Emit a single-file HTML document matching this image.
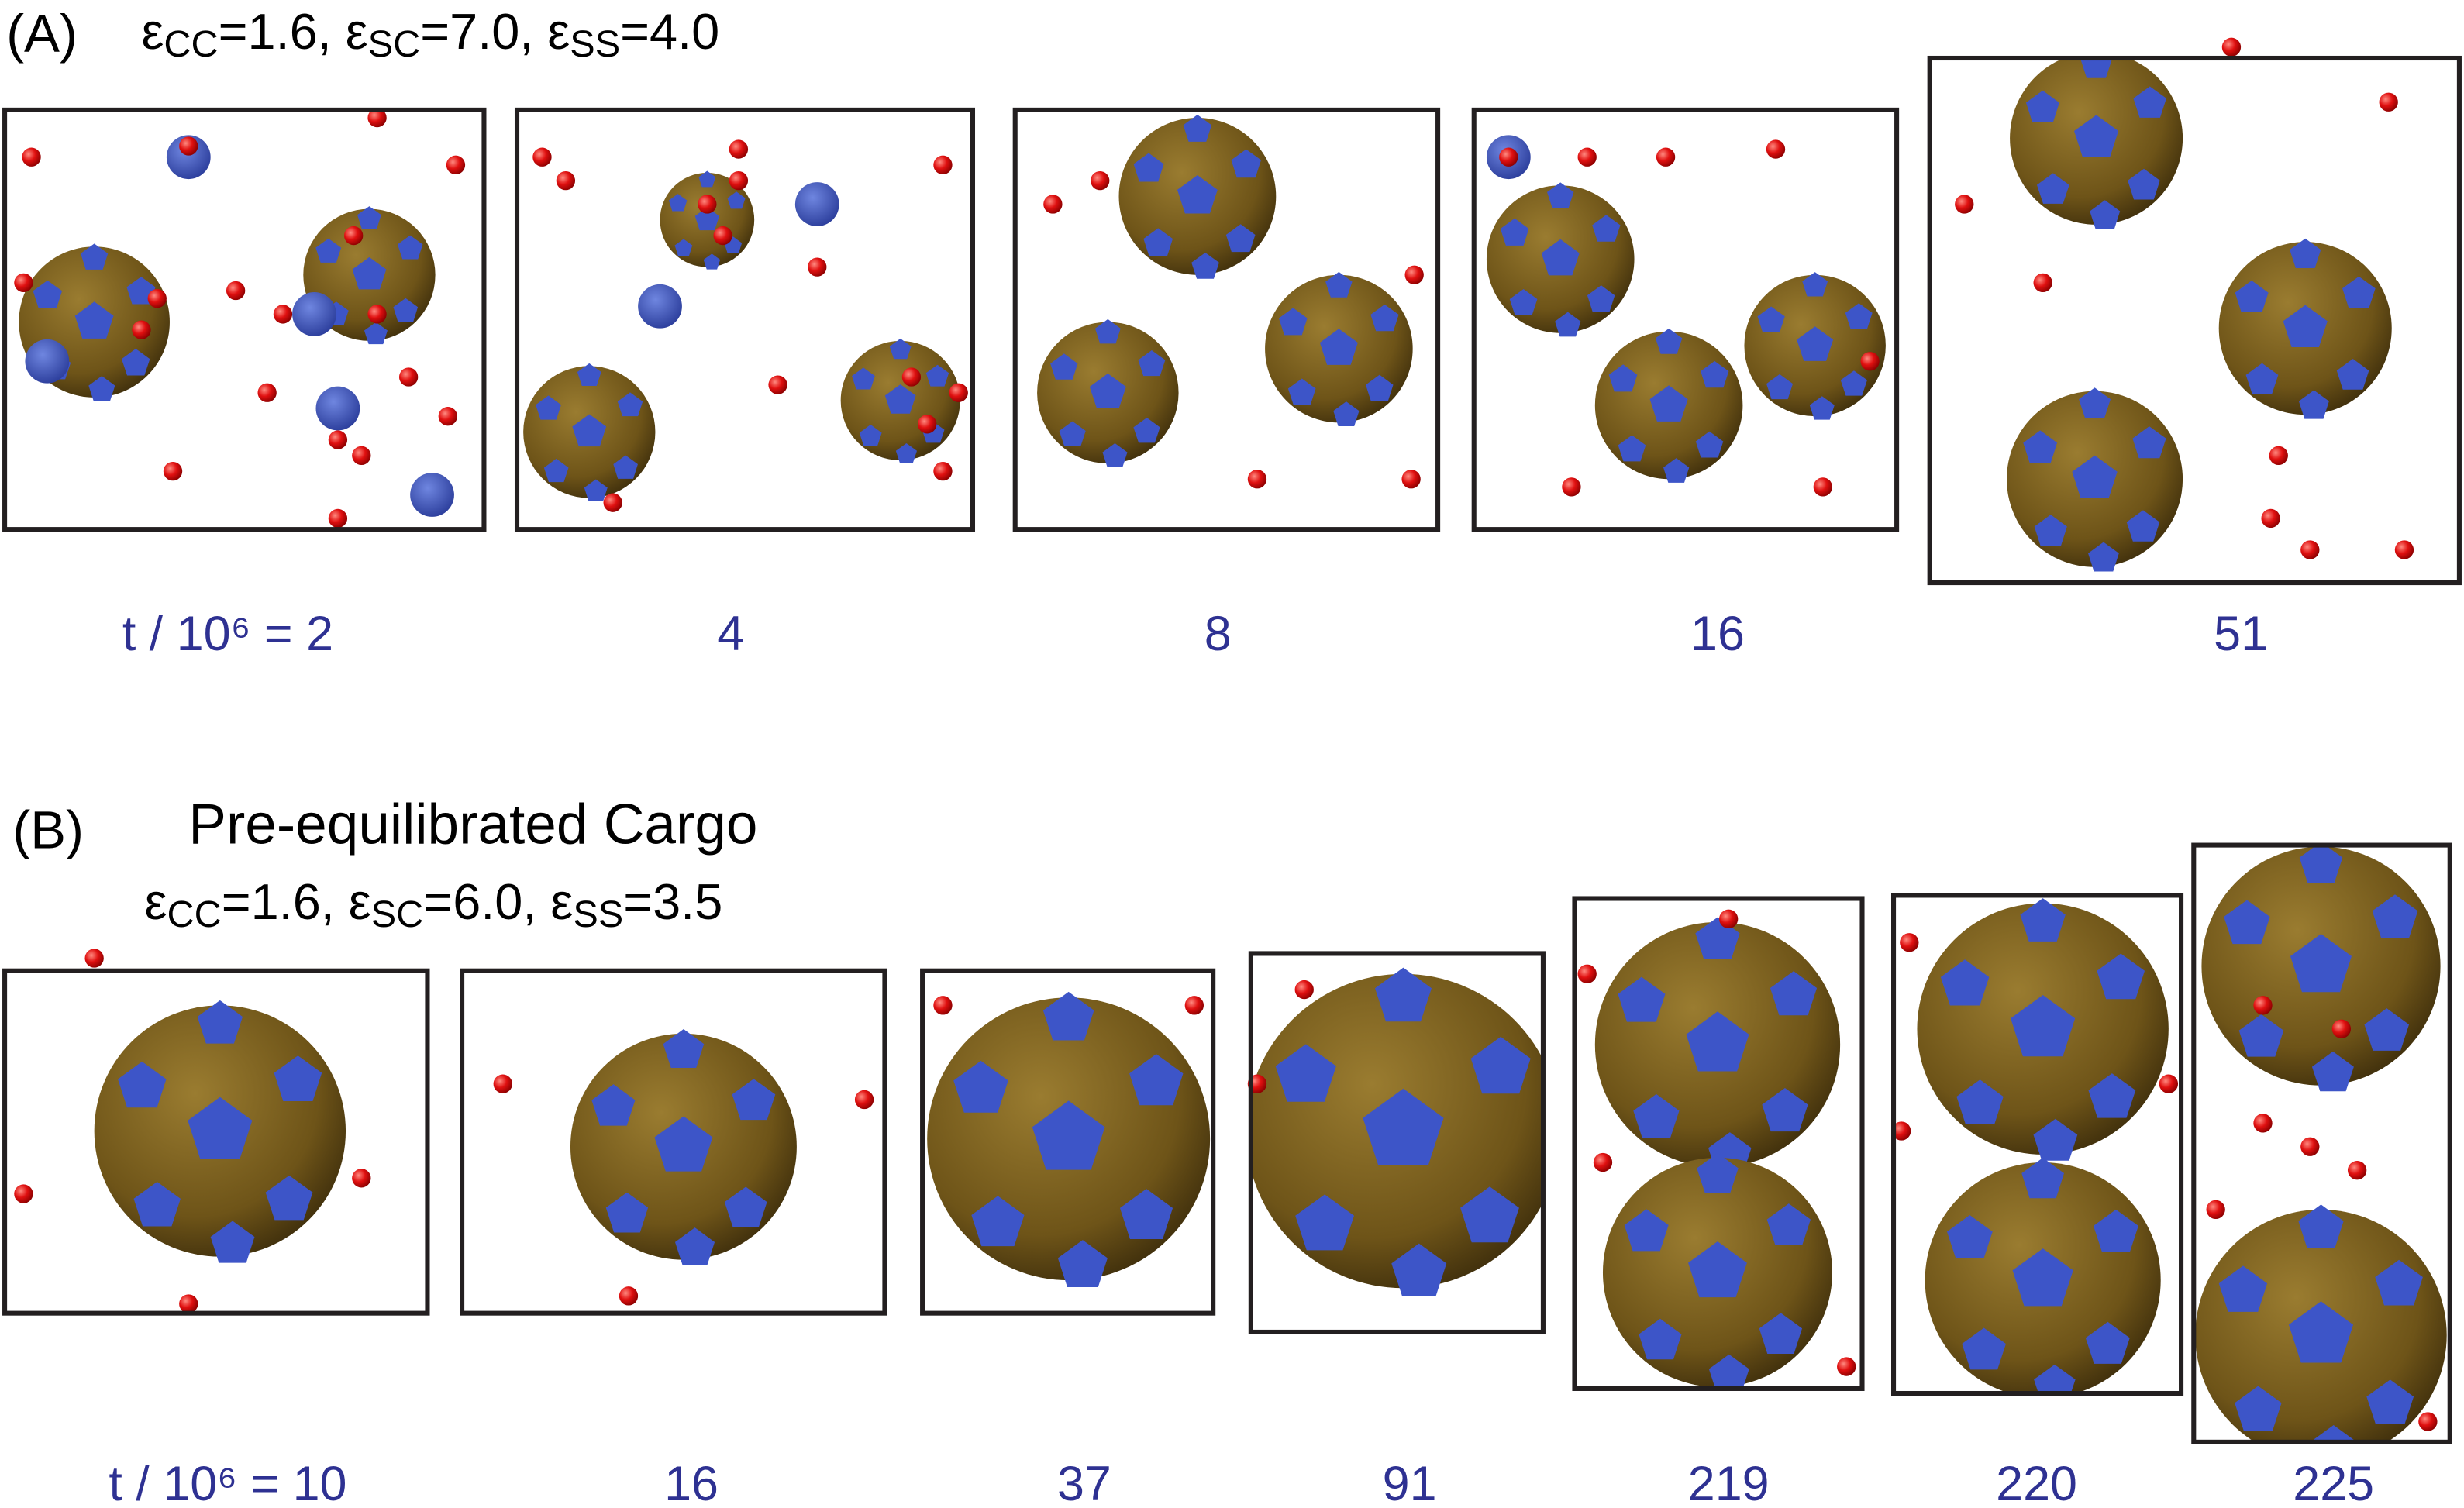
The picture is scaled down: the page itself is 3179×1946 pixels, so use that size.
<!DOCTYPE html>
<html><head><meta charset="utf-8"><style>
html,body{margin:0;padding:0;background:#fff}
svg{display:block}
text{font-family:"Liberation Sans",sans-serif}
</style></head><body>
<svg id="fig" width="3179" height="1946" viewBox="0 0 1568 960" preserveAspectRatio="none" xmlns="http://www.w3.org/2000/svg">
<defs>
<radialGradient id="gb" cx="0.4" cy="0.35" r="0.7"><stop offset="0" stop-color="#9a7c30"/><stop offset="0.7" stop-color="#6e5418"/><stop offset="1" stop-color="#3e2e0c"/></radialGradient>
<radialGradient id="gr" cx="0.35" cy="0.35" r="0.7"><stop offset="0" stop-color="#ff8a80"/><stop offset="0.5" stop-color="#e01010"/><stop offset="1" stop-color="#8a0000"/></radialGradient>
<radialGradient id="gbl" cx="0.4" cy="0.35" r="0.7"><stop offset="0" stop-color="#6f86e0"/><stop offset="1" stop-color="#2a3c9a"/></radialGradient>
</defs>
<g>
<text x="4" y="33" font-size="34">(A)</text>
<text x="90" y="31" font-size="32">ε<tspan font-size="24" dy="5">CC</tspan><tspan dy="-5">=1.6, ε</tspan><tspan font-size="24" dy="5">SC</tspan><tspan dy="-5">=7.0, ε</tspan><tspan font-size="24" dy="5">SS</tspan><tspan dy="-5">=4.0</tspan></text>
</g>
<g>
<text x="8" y="540" font-size="34">(B)</text>
<text x="120" y="537" font-size="36">Pre-equilibrated Cargo</text>
<text x="92" y="585" font-size="32">ε<tspan font-size="24" dy="5">CC</tspan><tspan dy="-5">=1.6, ε</tspan><tspan font-size="24" dy="5">SC</tspan><tspan dy="-5">=6.0, ε</tspan><tspan font-size="24" dy="5">SS</tspan><tspan dy="-5">=3.5</tspan></text>
</g>
<g id="frames"></g>
<g id="labels" fill="#2e3192" font-size="31" text-anchor="middle"></g>
</svg>
<script>
const NS='http://www.w3.org/2000/svg';
const framesA=[[3,70,305,267],[329,70,290,267],[646,70,269,267],[938,70,269,267],[1228,37,337,334]];
const labelsA=['t / 10⁶ = 2','4','8','16','51'];
const labelXA=[145,465,775,1093,1426];
const framesB=[[3,618,269,218],[294,618,269,218],[587,618,185,218],[796,607,186,241],[1002,572,183,312],[1205,570,183,317],[1396,538,163,380]];
const labelsB=['t / 10⁶ = 10','16','37','91','219','220','225'];
const labelXB=[145,440,690,897,1100,1296,1485];
// capsids [cx,cy,r]
const capsids=[[60,205,48],[235,175,42],[375,275,42],[450,140,30],[573,255,38],[762,125,50],[705,250,45],[852,222,47],[993,165,47],[1062,258,47],[1155,220,45],[1334,88,55],[1467,209,55],[1333,305,56],
[140,720,80],[435,730,72],[680,725,90],[893,720,100],[1093,665,78],[1093,810,73],[1300,655,80],[1300,815,75],[1477,615,76],[1477,850,80]];
const reds=[[20,100],[120,93],[240,75],[290,105],[15,180],[150,185],[180,200],[170,250],[110,300],[260,240],[285,265],[215,330],[100,190],[90,210],[225,150],[240,200],[215,280],[230,290],[345,100],[360,115],[470,95],[520,170],[495,245],[390,320],[450,130],[460,150],[470,115],[580,240],[590,270],[600,105],[610,250],[600,300],[700,115],[670,130],[800,305],[898,305],[900,175],[960,100],[1010,100],[1060,100],[1130,95],[1190,230],[1160,310],[1000,310],[1250,130],[1300,180],[1420,30],[1520,65],[1450,290],[1445,330],[1530,350],[1470,350],[60,610],[15,760],[120,830],[230,750],[320,690],[400,825],[550,700],[600,640],[760,640],[800,690],[830,630],[1010,620],[1100,585],[1020,740],[1175,870],[1215,600],[1210,720],[1380,690],[1440,715],[1470,730],[1500,745],[1410,770],[1545,905],[1440,640],[1490,655]];
const blues=[[120,100],[30,230],[200,200],[520,130],[420,195],[215,260],[275,315],[960,100]];
const pents=[[0,0],[0.62,-0.4],[-0.62,-0.35],[0.55,0.55],[-0.5,0.6],[0,-0.85],[0.1,0.9]];
function el(t,a,p){const e=document.createElementNS(NS,t);for(const k in a)e.setAttribute(k,a[k]);p.appendChild(e);return e;}
const G=document.getElementById('frames'),L=document.getElementById('labels');
const defs=document.querySelector('defs');
const all=framesA.concat(framesB);
all.forEach((f,i)=>{const cp=el('clipPath',{id:'c'+i},defs);el('rect',{x:f[0],y:f[1],width:f[2],height:f[3]},cp);});
function clipFor(x,y){for(let i=0;i<all.length;i++){const f=all[i];if(x>=f[0]-5&&x<=f[0]+f[2]+5&&y>=f[1]-5&&y<=f[1]+f[3]+5)return 'url(#c'+i+')';}return null;}
function pent(cx,cy,s){let p=[];for(let i=0;i<5;i++){const a=-Math.PI/2+i*2*Math.PI/5;p.push((cx+s*Math.cos(a)).toFixed(1)+','+(cy+s*Math.sin(a)).toFixed(1));}return p.join(' ');}
capsids.forEach(c=>{
 const g=el('g',{},G);
 
 
 const cl=clipFor(c[0],c[1]);if(cl)g.setAttribute('clip-path',cl);
 el('circle',{cx:c[0],cy:c[1],r:c[2],fill:'url(#gb)'},g);
 pents.forEach(p=>{const d=Math.hypot(p[0],p[1]);const s=c[2]*0.27*(1-0.35*d);el('polygon',{points:pent(c[0]+p[0]*c[2],c[1]+p[1]*c[2],s),fill:'#3d55c8'},g);});
});
blues.forEach(b=>{const e=el('circle',{cx:b[0],cy:b[1],r:14,fill:'url(#gbl)'},G);
 
 });
reds.forEach(r=>{const e=el('circle',{cx:r[0],cy:r[1],r:6,fill:'url(#gr)'},G);
 
 });
function frames(list,labs,lx,ly,pfx){
 list.forEach((f,i)=>{const r=el('rect',{x:f[0],y:f[1],width:f[2],height:f[3],fill:'none',stroke:'#231f20','stroke-width':3},G);
  
  
  const t=el('text',{x:lx[i],y:ly},L);t.textContent=labs[i];
  
  });
}
frames(framesA,labelsA,labelXA,414,'panel-a');
frames(framesB,labelsB,labelXB,955,'panel-b');
</script>
</body></html>
